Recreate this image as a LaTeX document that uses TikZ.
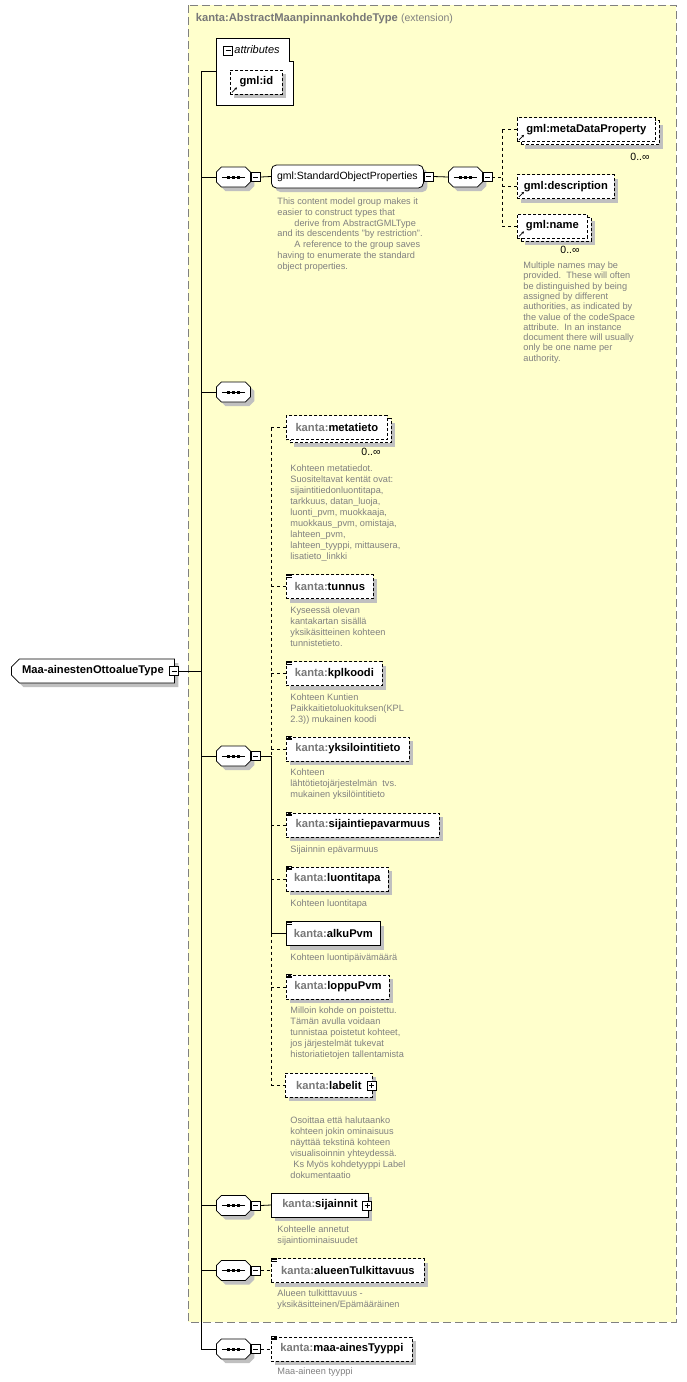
\documentclass[tikz,border=0pt]{standalone}
\usepackage{fontspec}
\setmainfont{Liberation Sans}
\usetikzlibrary{positioning,shapes.misc,shadows,arrows.meta}

\definecolor{extyellow}{RGB}{255,255,204}
\definecolor{extborder}{RGB}{128,128,128}
\definecolor{shadowgray}{RGB}{192,192,192}
\definecolor{descgray}{RGB}{128,128,128}
\definecolor{prefixgray}{RGB}{120,120,120}

\newcommand{\kanta}[1]{{\color{prefixgray}kanta:}#1}
% small marks drawn on the element boxes
\newcommand{\typeicon}[1]{\foreach \d in {0,1.6,3.2} \draw[line width=0.7pt,solid] ([yshift=-\d pt]#1.north west) -- ++(5.5,0);}
\newcommand{\refarrow}[1]{\draw[-{Stealth[length=2.6pt,width=2.6pt]},line width=0.8pt,solid] ([xshift=2pt,yshift=2pt]#1.south west) -- ++(5,-5);}
% octagon of a sequence compositor round a node
\newcommand{\octpath}{++(-12,-10) -- ++(24,0) -- ++(5,5) -- ++(0,10) -- ++(-5,5) -- ++(-24,0) -- ++(-5,-5) -- ++(0,-10) -- cycle}

\begin{document}
\begin{tikzpicture}[x=1pt,y=-1pt,line width=0.8pt]
\tikzset{
  boxshadow/.style={drop shadow={shadow xshift=4pt,shadow yshift=-4pt,fill=shadowgray,opacity=1}},
  elembase/.style={draw=black,fill=white,minimum height=24pt,inner sep=0pt,anchor=west,font=\fontsize{11.2}{13}\selectfont\bfseries},
  elem/.style={elembase,boxshadow},
  optbase/.style={elembase,dash pattern=on 3pt off 2pt},
  optelem/.style={optbase,boxshadow},
  grp/.style={elem,rounded corners=5pt,minimum height=23pt,font=\fontsize{10.5}{13}\selectfont},
  seqbox/.style={minimum width=34pt,minimum height=20pt,inner sep=0pt,anchor=west},
  pmbox/.style={draw=black,solid,fill=white,minimum size=9pt,inner sep=0pt,line width=0.7pt},
  minusbox/.style={pmbox,path picture={\draw[line width=0.7pt] ([xshift=2pt]path picture bounding box.west) -- ([xshift=-2pt]path picture bounding box.east);}},
  plusbox/.style={pmbox,path picture={\draw[line width=0.7pt] ([xshift=2pt]path picture bounding box.west) -- ([xshift=-2pt]path picture bounding box.east) ([yshift=-2pt]path picture bounding box.north) -- ([yshift=2pt]path picture bounding box.south);}},
  desc/.style={anchor=north west,inner sep=0pt,align=left,text=descgray,font=\fontsize{9.2}{11}\selectfont},
  mult/.style={anchor=east,inner sep=0pt,font=\fontsize{10.5}{12}\selectfont},
  optline/.style={dash pattern=on 3pt off 3pt},
}
\useasboundingbox (0,0) rectangle (687,1382);

% extension frame
\draw[extborder,fill=extyellow,dash pattern=on 8pt off 4pt,line width=1pt] (188,5) rectangle (676,1322);
\node[anchor=west,inner sep=0pt,text=prefixgray] (exttitle) at (195.5,19)
  {\fontsize{11.2}{13}\selectfont\bfseries kanta:AbstractMaanpinnankohdeType\ {\fontsize{10.5}{13}\selectfont\mdseries\color{descgray}(extension)}};

% attributes
\draw[fill=white] (216.5,38) -- (289,38) -- (289,61) -- (293.5,61) -- (293.5,105.5) -- (216.5,105.5) -- cycle;
\coordinate (attr) at (216.5,71.5);
\node[minusbox] (attrm) at (228,50.5) {};
\node[anchor=west,inner sep=0pt,font=\fontsize{11}{13}\selectfont\itshape] (attrlbl) at (234,50) {attributes};
\node[optelem,minimum width=52pt] (gmlid) at (230,82) {gml:id};

% root type
\node[elem,chamfered rectangle,chamfered rectangle corners={north west,south west},chamfered rectangle sep=4pt,minimum width=163pt] (root) at (11,671) {Maa-ainestenOttoalueType\hspace{8pt}};
\node[minusbox] (rootm) at (174,671) {};
\coordinate (trunk) at (201,671);

% sequences on the trunk
\node[seqbox] (s1) at (216,177) {};
\node[seqbox] (s2) at (216,392) {};
\node[seqbox] (s3) at (216,756) {};
\node[seqbox] (s4) at (216,1205.5) {};
\node[seqbox] (s5) at (216,1270.5) {};
\node[seqbox] (s6) at (216,1349) {};
\node[seqbox] (s1b) at (448,177) {};
\foreach \s in {s1,s1b,s2,s3,s4,s5,s6} {
  \fill[shadowgray] ([shift={(4,4)}]\s.center) \octpath;
  \filldraw[fill=white] (\s.center) \octpath;
  \draw ([xshift=-11.5pt]\s.center) -- ([xshift=11.5pt]\s.center);
  \foreach \dx in {-5,0,5} \fill ([xshift=\dx pt]\s.center) +(-1.8,-1.5) rectangle +(1.8,1.5);
}
\node[minusbox] (s1m) at (255.8,177) {};
\node[minusbox] (s3m) at (255.8,756) {};
\node[minusbox] (s4m) at (255.8,1205.5) {};
\node[minusbox] (s5m) at (255.8,1270.5) {};
\node[minusbox] (s6m) at (255.8,1349) {};

% standard object properties
\node[grp,minimum width=152pt] (sop) at (271,176.5) {gml:StandardObjectProperties\hspace{6pt}};
\node[minusbox] (sopm) at (428.5,176.5) {};
\node[desc,font=\fontsize{9.2}{10.8}\selectfont] (sopdesc) at (277,197.5) {This content model group makes it\\easier to construct types that\\\hspace*{17pt}derive from AbstractGMLType\\and its descendents "by restriction".\\\hspace*{17pt}A reference to the group saves\\having to enumerate the standard\\object properties.};
\node[minusbox] (s1bm) at (487.5,177) {};
\coordinate (gv) at (502,177);

\node[optelem,minimum width=138pt] (mdpback) at (521,132.5) {};
\node[optbase,minimum width=138pt] (mdp) at (517,129.5) {gml:metaDataProperty};
\node[mult] (mdpmult) at (650,157) {0..∞};
\node[optelem,minimum width=97pt] (gdesc) at (517,186.5) {gml:description};
\node[optelem,minimum width=70pt] (gnameback) at (521,229) {};
\node[optbase,minimum width=70pt] (gname) at (517,226) {gml:name};
\node[mult] (gnamemult) at (580,250) {0..∞};
\node[desc,font=\fontsize{9.2}{10.3}\selectfont] (gnamedesc) at (523,261.5) {Multiple names may be\\provided.\ \ These will often\\be distinguished by being\\assigned by different\\authorities, as indicated by\\the value of the codeSpace\\attribute.\ \ In an instance\\document there will usually\\only be one name per\\authority.};

% kanta elements
\coordinate (cv) at (271,756);
\node[optelem,minimum width=101pt] (metaback) at (290,430.5) {};
\node[optbase,minimum width=101pt] (metatieto) at (286,427.5) {\kanta{metatieto}};
\node[mult] (metamult) at (381,452) {0..∞};
\node[desc] (metadesc) at (290,464.5) {Kohteen metatiedot.\\Suositeltavat kentät ovat:\\sijaintitiedonluontitapa,\\tarkkuus, datan\_luoja,\\luonti\_pvm, muokkaaja,\\muokkaus\_pvm, omistaja,\\lahteen\_pvm,\\lahteen\_tyyppi, mittausera,\\lisatieto\_linkki};

\node[optelem,minimum width=87pt] (tunnus) at (286,586.5) {\kanta{tunnus}};
\node[desc] (tunnusdesc) at (290,606.5) {Kyseessä olevan\\kantakartan sisällä\\yksikäsitteinen kohteen\\tunnistetieto.};
\node[optelem,minimum width=96pt] (kplkoodi) at (286,673.5) {\kanta{kplkoodi}};
\node[desc] (kpldesc) at (290,693) {Kohteen Kuntien\\Paikkaitietoluokituksen(KPL\\2.3)) mukainen koodi};
\node[optelem,minimum width=123pt] (yksil) at (286,749) {\kanta{yksilointitieto}};
\node[desc] (yksildesc) at (290,768.5) {Kohteen\\lähtötietojärjestelmän\ \ tvs.\\mukainen yksilöintitieto};
\node[optelem,minimum width=153pt] (sijepa) at (286,825) {\kanta{sijaintiepavarmuus}};
\node[desc] (sijepadesc) at (290,845.5) {Sijainnin epävarmuus};
\node[optelem,minimum width=102pt] (luonti) at (286,879) {\kanta{luontitapa}};
\node[desc] (luontidesc) at (290,899.5) {Kohteen luontitapa};
\node[elem,minimum width=94pt] (alkupvm) at (286,933.5) {\kanta{alkuPvm}};
\node[desc] (alkudesc) at (290,953) {Kohteen luontipäivämäärä};
\node[optelem,minimum width=103pt] (loppupvm) at (286,987) {\kanta{loppuPvm}};
\node[desc] (loppudesc) at (290,1006.5) {Milloin kohde on poistettu.\\Tämän avulla voidaan\\tunnistaa poistetut kohteet,\\jos järjestelmät tukevat\\historiatietojen tallentamista};
\node[optelem,minimum width=87pt] (labelit) at (285,1085) {\kanta{labelit}\hspace{8pt}};
\node[plusbox] (labelitp) at (371.5,1085.5) {};
\node[desc] (labelitdesc) at (290,1116.5) {Osoittaa että halutaanko\\kohteen jokin ominaisuus\\näyttää tekstinä kohteen\\visualisoinnin yhteydessä.\\\hspace*{3pt}Ks Myös kohdetyyppi Label\\dokumentaatio};

\node[elem,minimum width=97pt] (sijainnit) at (271,1205) {\kanta{sijainnit}\hspace{8pt}};
\node[plusbox] (sijainnitp) at (367,1205.5) {};
\node[desc] (sijainnitdesc) at (277,1225.5) {Kohteelle annetut\\sijaintiominaisuudet};
\node[optelem,minimum width=153pt] (alueen) at (271,1270.5) {\kanta{alueenTulkittavuus}};
\node[desc] (alueendesc) at (277,1289.5) {Alueen tulkitttavuus -\\yksikäsitteinen/Epämääräinen};
\node[optelem,minimum width=141pt] (maatyyppi) at (271,1349) {\kanta{maa-ainesTyyppi}};
\node[desc] (maadesc) at (277,1367) {Maa-aineen tyyppi};

% icons
\foreach \e in {gmlid,mdp,gdesc,gname} {\refarrow{\e}}
\foreach \e in {tunnus,kplkoodi,yksil,sijepa,luonti,alkupvm,loppupvm,alueen,maatyyppi} {\typeicon{\e}}

% connectors
\draw (rootm.east) -- (trunk);
\draw (trunk |- attr) -- (trunk |- s6.west);
\draw (trunk |- attr) -- (attr);
\foreach \s in {s1,s2,s3,s4,s5,s6} \draw (trunk |- \s.west) -- (\s.west);
\draw (s1m.east) -- (sop.west);
\draw (sopm.east) -- (s1b.west);
\draw[optline] (s1bm.east) -- (gv);
\draw[optline] (gv |- mdp.west) -- (gv |- gname.west);
\foreach \e in {mdp,gdesc,gname} \draw[optline] (gv |- \e.west) -- (\e.west);
\draw (s3m.east) -- (cv);
\draw[optline] (cv |- metatieto.west) -- (cv);
\draw (cv) -- (cv |- alkupvm.west);
\draw[optline] (cv |- alkupvm.west) -- (cv |- labelit.west);
\foreach \e in {metatieto,tunnus,kplkoodi,yksil,sijepa,luonti,loppupvm,labelit} \draw[optline] (cv |- \e.west) -- (\e.west);
\draw (cv |- alkupvm.west) -- (alkupvm.west);
\draw (s4m.east) -- (sijainnit.west);
\draw[optline] (s5m.east) -- (alueen.west);
\draw[optline] (s6m.east) -- (maatyyppi.west);
\end{tikzpicture}
\end{document}
